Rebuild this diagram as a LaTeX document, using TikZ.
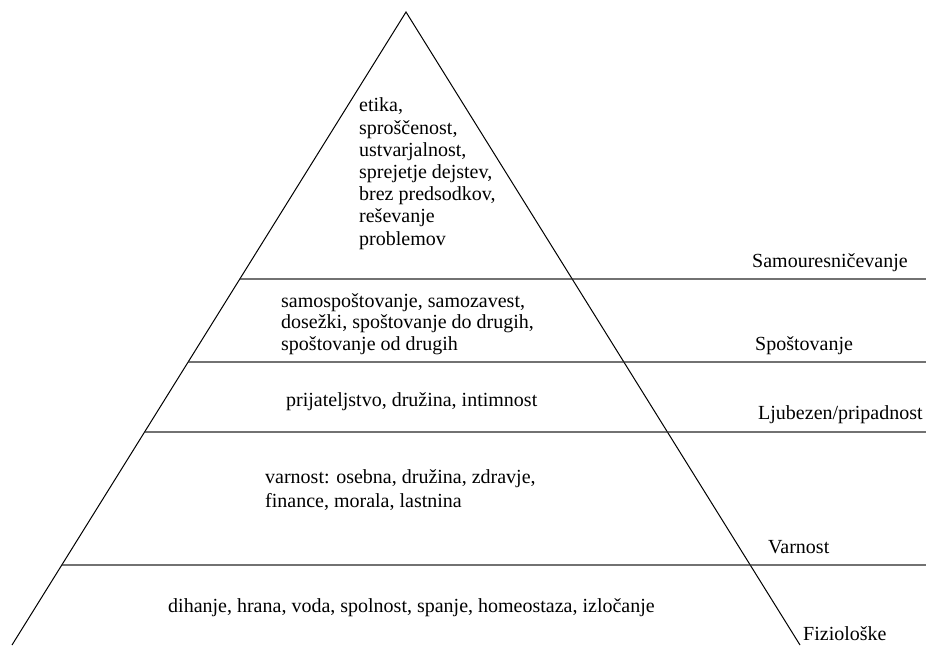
\documentclass[tikz,border=0pt]{standalone}
\usepackage{fontspec}
\setmainfont{Liberation Serif}
\usetikzlibrary{calc}

\begin{document}
\begin{tikzpicture}[
    x=1pt, y=-1pt,
    side/.style={draw=black, line width=1pt},
    divider/.style={draw=black!85, line width=1.1pt},
    needs/.style={anchor=base west, inner sep=0pt, align=left, font=\fontsize{20}{22.2}\selectfont},
    levelname/.style={anchor=base west, inner sep=0pt, font=\fontsize{20}{22}\selectfont},
]
\useasboundingbox (0,0) rectangle (926,645);

% Pyramid corners
\coordinate (apex) at (406,12);
\coordinate (bl) at (12,645);
\coordinate (br) at (800,645);

% Left ends of the level lines
\coordinate (l1) at ($(apex)!0.4218!(bl)$);
\coordinate (l2) at ($(apex)!0.5529!(bl)$);
\coordinate (l3) at ($(apex)!0.6635!(bl)$);
\coordinate (l4) at ($(apex)!0.8736!(bl)$);

% Right ends of the level lines
\coordinate (r1) at (926,279);
\coordinate (r2) at (926,362);
\coordinate (r3) at (926,432);
\coordinate (r4) at (926,565);

% Sides
\draw[side] (bl) -- (apex) -- (br);

% Levels
\draw[divider] (l1) -- (r1);
\draw[divider] (l2) -- (r2);
\draw[divider] (l3) -- (r3);
\draw[divider] (l4) -- (r4);

% Contents of the levels (placed by the baseline of the last line)
\node[needs] (self) at (359,245) {etika,\\sproščenost,\\ustvarjalnost,\\sprejetje dejstev,\\brez predsodkov,\\reševanje\\problemov};
\node[needs, font=\fontsize{20}{21.2}\selectfont] (esteem) at (281,350) {samospoštovanje, samozavest,\\dosežki, spoštovanje do drugih,\\spoštovanje od drugih};
\node[needs] (love) at (286,406) {prijateljstvo, družina, intimnost};
\node[needs, font=\fontsize{20}{23.5}\selectfont] (safety) at (265,507) {varnost: osebna, družina, zdravje,\\finance, morala, lastnina};
\node[needs] (body) at (168,612) {dihanje, hrana, voda, spolnost, spanje, homeostaza, izločanje};

% Names of the levels
\node[levelname] (selfname) at (752,267) {Samouresničevanje};
\node[levelname] (esteemname) at (755,350) {Spoštovanje};
\node[levelname] (lovename) at (758,419) {Ljubezen/pripadnost};
\node[levelname] (safetyname) at (768,553) {Varnost};
\node[levelname] (bodyname) at (803,640) {Fiziološke};

\end{tikzpicture}
\end{document}
